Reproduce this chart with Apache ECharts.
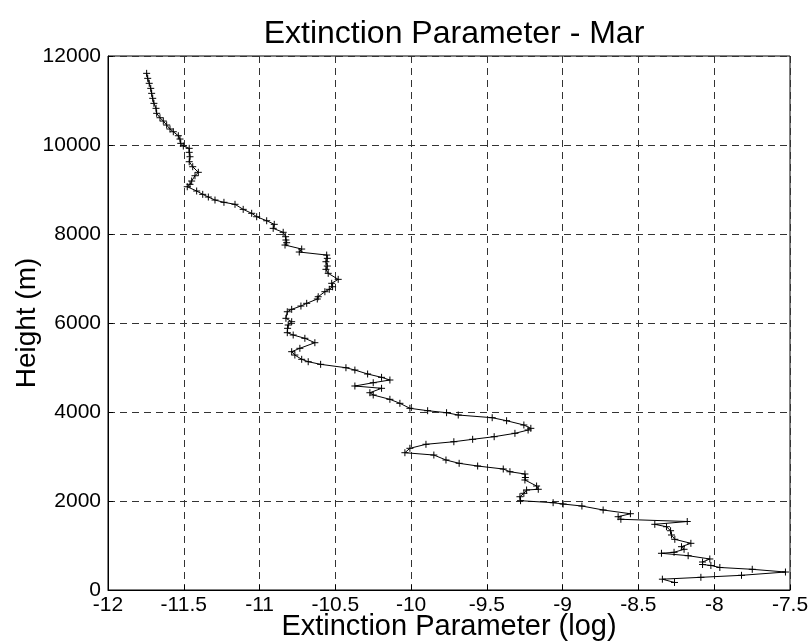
<!DOCTYPE html>
<html>
<head>
<meta charset="utf-8">
<script src="https://cdn.jsdelivr.net/npm/echarts@6/dist/echarts.min.js"></script>
<style>
html,body{margin:0;padding:0;background:#fff;}
#chart{width:808px;height:643px;}
</style>
</head>
<body>
<div id="chart"></div>
<script>
// profile, top to bottom
var height = [
  11610, 11498, 11386, 11273, 11161, 11049, 10936, 10824, 10712, 10613,
  10538, 10449, 10359, 10298, 10208, 10134, 10037, 9977, 9925, 9835,
  9736, 9624, 9512, 9386, 9309, 9190, 9116, 9062, 8966, 8891,
  8831, 8763, 8712, 8667, 8554, 8465, 8388, 8298, 8217, 8127,
  8038, 7939, 7865, 7804, 7752, 7662, 7595, 7527, 7453, 7377,
  7280, 7206, 7116, 6981, 6892, 6815, 6757, 6703, 6590, 6539,
  6442, 6381, 6307, 6253, 6105, 6029, 5955, 5880, 5782, 5730,
  5656, 5557, 5431, 5355, 5280, 5184, 5130, 5071, 4995, 4943,
  4854, 4779, 4719, 4658, 4584, 4532, 4433, 4382, 4285, 4195,
  4083, 4029, 3984, 3932, 3872, 3804, 3708, 3633, 3595, 3521,
  3445, 3386, 3332, 3274, 3184, 3085, 3033, 2921, 2847, 2786,
  2719, 2658, 2607, 2528, 2472, 2337, 2263, 2247, 2173, 2096,
  2007, 1962, 1932, 1887, 1798, 1714, 1647, 1589, 1539, 1476,
  1422, 1332, 1236, 1139, 1049, 973, 915, 847, 825, 771,
  697, 629, 573, 551, 506, 465, 404, 330, 285, 243,
  169
];
var extinction = [
  -11.745, -11.738, -11.728, -11.718, -11.712, -11.705, -11.697, -11.683, -11.679, -11.657,
  -11.635, -11.613, -11.591, -11.569, -11.536, -11.525, -11.520, -11.503, -11.464, -11.464,
  -11.459, -11.464, -11.441, -11.404, -11.426, -11.448, -11.459, -11.477, -11.415, -11.375,
  -11.338, -11.294, -11.235, -11.162, -11.108, -11.052, -11.019, -10.953, -10.903, -10.910,
  -10.844, -10.828, -10.826, -10.821, -10.832, -10.722, -10.738, -10.557, -10.553, -10.562,
  -10.553, -10.562, -10.547, -10.481, -10.524, -10.518, -10.540, -10.569, -10.613, -10.619,
  -10.689, -10.727, -10.788, -10.817, -10.826, -10.788, -10.811, -10.815, -10.817, -10.778,
  -10.701, -10.635, -10.734, -10.788, -10.767, -10.722, -10.679, -10.597, -10.430, -10.371,
  -10.287, -10.195, -10.140, -10.250, -10.371, -10.195, -10.272, -10.250, -10.140, -10.074,
  -10.008, -9.891, -9.766, -9.689, -9.465, -9.370, -9.256, -9.210, -9.228, -9.315,
  -9.452, -9.594, -9.718, -9.902, -10.008, -10.041, -9.850, -9.770, -9.683, -9.561,
  -9.392, -9.348, -9.249, -9.246, -9.249, -9.172, -9.161, -9.238, -9.256, -9.282,
  -9.278, -9.063, -8.997, -8.873, -8.733, -8.553, -8.634, -8.616, -8.178, -8.392,
  -8.315, -8.288, -8.282, -8.260, -8.154, -8.216, -8.199, -8.265, -8.348, -8.172,
  -8.029, -8.077, -8.077, -8.022, -7.963, -7.749, -7.530, -7.820, -8.088, -8.342,
  -8.262
];
var xTicks = {min: -12, max: -7.5, step: 0.5};
var yTicks = {min: 0, max: 12000, step: 2000};

var pts = [];
for (var i = 0; i < height.length; i++) {
  pts.push([extinction[i], height[i]]);
}

var chart = echarts.init(document.getElementById('chart'));
var font = 'Liberation Sans, Arial, sans-serif';
var gridLine = {show: true, lineStyle: {color: '#333', width: 1, type: [7, 5]}};

chart.setOption({
  animation: false,
  title: {
    text: 'Extinction Parameter - Mar',
    left: 449, top: 13, textAlign: 'center',
    textStyle: {fontFamily: font, fontWeight: 'normal', fontSize: 32, color: '#000'}
  },
  grid: {
    left: 108, right: 18, top: 56, bottom: 53,
    outerBoundsMode: 'none', containLabel: false,
    show: true, borderColor: '#000', borderWidth: 1
  },
  xAxis: {
    type: 'value',
    min: xTicks.min, max: xTicks.max, interval: xTicks.step,
    name: 'Extinction Parameter (log)',
    nameLocation: 'middle', nameGap: 22, nameMoveOverlap: false,
    nameTextStyle: {fontFamily: font, fontSize: 29, color: '#000', verticalAlign: 'top'},
    axisLine: {show: true, lineStyle: {color: '#000'}},
    axisTick: {show: true, inside: true, length: 5, lineStyle: {color: '#000'}},
    axisLabel: {fontFamily: font, fontSize: 21, color: '#000', margin: 5},
    splitLine: gridLine
  },
  yAxis: {
    type: 'value',
    min: yTicks.min, max: yTicks.max, interval: yTicks.step,
    name: 'Height (m)',
    nameLocation: 'middle', nameGap: 67, nameMoveOverlap: false,
    nameTextStyle: {fontFamily: font, fontSize: 28, color: '#000'},
    axisLine: {show: true, lineStyle: {color: '#000'}},
    axisTick: {show: true, inside: true, length: 5, lineStyle: {color: '#000'}},
    axisLabel: {fontFamily: font, fontSize: 21, color: '#000', margin: 7,
      formatter: function (v) { return String(v); }},
    splitLine: gridLine
  },
  series: [{
    type: 'line',
    data: pts,
    symbol: 'path://M0,5 L10,5 M5,0 L5,10',
    symbolSize: 7,
    itemStyle: {color: 'transparent', borderColor: '#000', borderWidth: 1},
    lineStyle: {color: '#000', width: 1},
    silent: true
  }]
});
</script>
</body>
</html>
